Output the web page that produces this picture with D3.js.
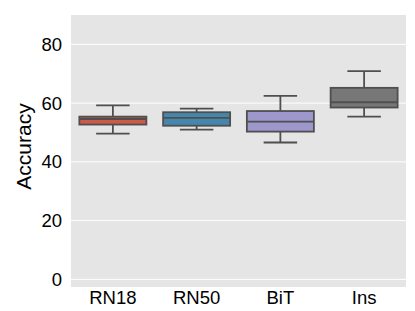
<!DOCTYPE html>
<html>
<head>
<meta charset="utf-8">
<script src="https://cdn.jsdelivr.net/npm/d3@7"></script>
<style>
    body { margin: 0; background: #fff; }
    text { font-family: "Liberation Sans", Arial, sans-serif; fill: #000; }
</style>
</head>
<body>
<svg id="chart" width="415" height="311"></svg>
<script>
var models = ["RN18", "RN50", "BiT", "Ins"]
var whiskerLow = [49.6, 51.0, 46.6, 55.4]
var q1 = [52.7, 52.3, 50.3, 58.5]
var median = [54.6, 55.0, 53.7, 60.3]
var q3 = [55.4, 56.9, 57.3, 65.2]
var whiskerHigh = [59.2, 58.1, 62.5, 70.9]
var yTicks = [0, 20, 40, 60, 80]

var colors = ["#cc5a49", "#4586ac", "#9e97cc", "#777777"]
var line_color = '#4f4f4f'

var svg = d3.select("svg#chart")
var margin = {left: 71, right: 9, top: 15, bottom: 24}
var width = 415 - margin.left - margin.right,
    height = 311 - margin.top - margin.bottom

var g = svg.append("g").attr("transform", "translate(" + margin.left + "," + margin.top + ")")

var x = d3.scaleBand().domain(models).range([0, width]).paddingInner(0).paddingOuter(0)
var y = d3.scaleLinear().domain([-2.6, 90]).range([height, 0])

g.append("rect").attr("width", width).attr("height", height).attr("fill", "#e5e5e5")

// grid
g.append("g").selectAll("line").data(yTicks).enter().append("line")
    .attr("x1", 0).attr("x2", width)
    .attr("y1", function (d) { return y(d) }).attr("y2", function (d) { return y(d) })
    .attr("stroke", "#fff").attr("stroke-width", 1)

var yAxis = g.append("g").call(d3.axisLeft(y).tickValues(yTicks).tickSize(0).tickPadding(9))
yAxis.select(".domain").remove()
yAxis.selectAll("text").style("font-size", "18.5px").attr("fill", "#000")

var xAxis = g.append("g").attr("transform", "translate(0," + height + ")")
    .call(d3.axisBottom(x).tickSize(0).tickPadding(3.5))
xAxis.select(".domain").remove()
xAxis.selectAll("text").style("font-size", "18.5px").attr("fill", "#000")

svg.append("text")
    .attr("transform", "translate(31,146.5) rotate(-90)")
    .attr("text-anchor", "middle")
    .style("font-size", "21px")
    .text("Accuracy")

var boxW = x.bandwidth() * 0.8
var capW = boxW / 2

var boxes = g.append("g").selectAll("g").data(models).enter().append("g")
    .attr("transform", function (d) { return "translate(" + (x(d) + x.bandwidth() / 2) + ",0)" })

boxes.append("line")
    .attr("x1", 0).attr("x2", 0)
    .attr("y1", function (d, i) { return y(whiskerHigh[i]) })
    .attr("y2", function (d, i) { return y(q3[i]) })
boxes.append("line")
    .attr("x1", 0).attr("x2", 0)
    .attr("y1", function (d, i) { return y(q1[i]) })
    .attr("y2", function (d, i) { return y(whiskerLow[i]) })
boxes.append("line")
    .attr("x1", -capW / 2).attr("x2", capW / 2)
    .attr("y1", function (d, i) { return y(whiskerHigh[i]) })
    .attr("y2", function (d, i) { return y(whiskerHigh[i]) })
boxes.append("line")
    .attr("x1", -capW / 2).attr("x2", capW / 2)
    .attr("y1", function (d, i) { return y(whiskerLow[i]) })
    .attr("y2", function (d, i) { return y(whiskerLow[i]) })
boxes.append("rect")
    .attr("x", -boxW / 2).attr("width", boxW)
    .attr("y", function (d, i) { return y(q3[i]) })
    .attr("height", function (d, i) { return y(q1[i]) - y(q3[i]) })
    .attr("fill", function (d, i) { return colors[i] })
boxes.append("line")
    .attr("x1", -boxW / 2).attr("x2", boxW / 2)
    .attr("y1", function (d, i) { return y(median[i]) })
    .attr("y2", function (d, i) { return y(median[i]) })

boxes.selectAll("line,rect").attr("stroke", line_color).attr("stroke-width", 1.8)
</script>
</body>
</html>
